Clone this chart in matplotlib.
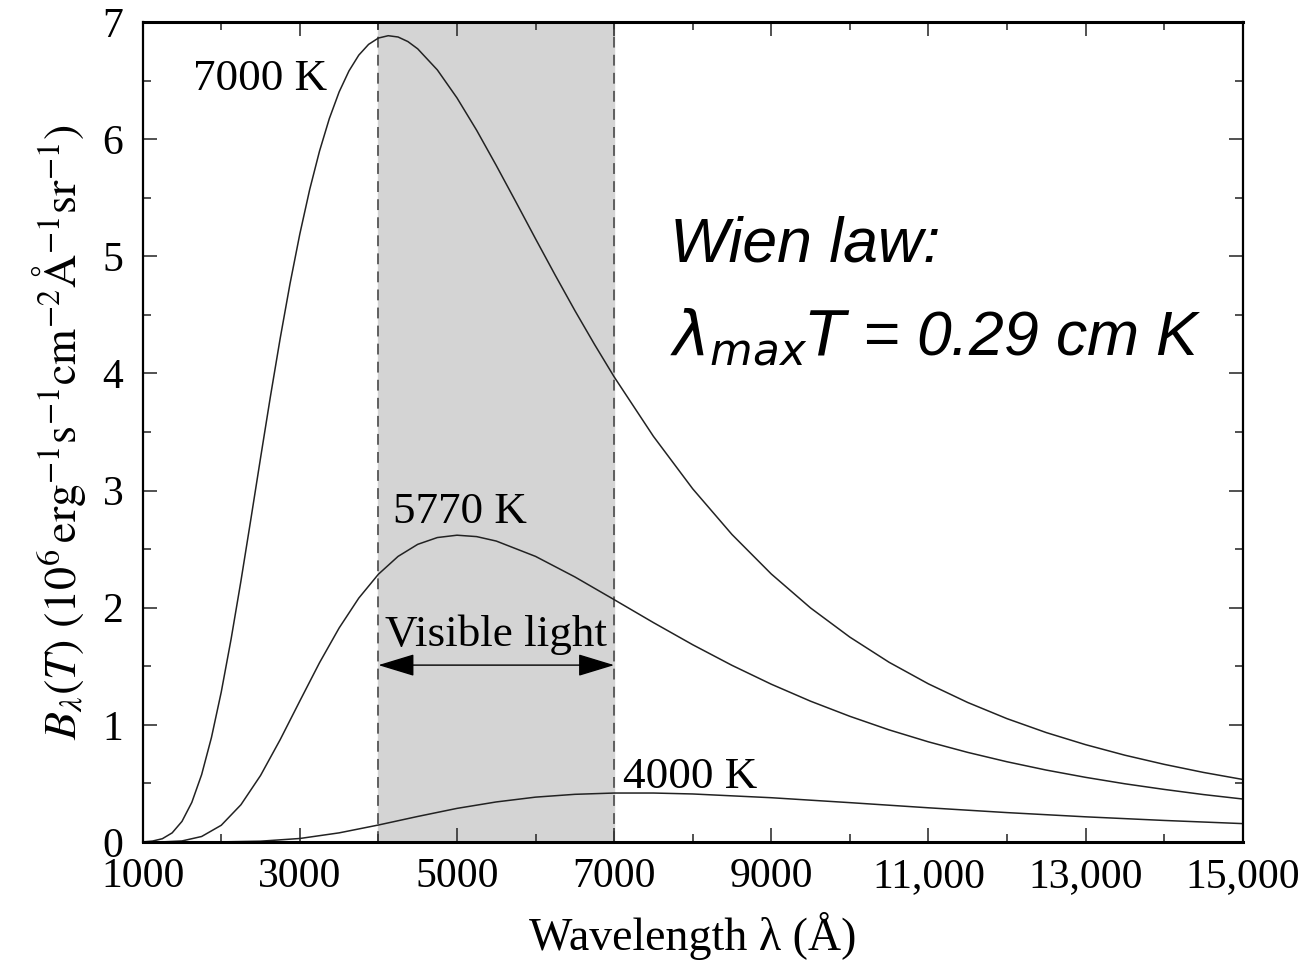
import numpy as np
import matplotlib
matplotlib.use("Agg")
from matplotlib import pyplot as plt
from matplotlib.ticker import FixedLocator, MultipleLocator

# values (10^6 erg s^-1 cm^-2 A^-1 sr^-1)
wl_7000 = [1000, 1125, 1250, 1375, 1500, 1625, 1750, 1875, 2000, 2125, 2250, 2375, 2500, 2625, 2750,
           2875, 3000, 3125, 3250, 3375, 3500, 3625, 3750, 3875, 4000, 4125, 4250, 4375, 4500, 4750,
           5000, 5250, 5500, 5750, 6000, 6250, 6500, 6750, 7000, 7500, 8000, 8500, 9000, 9500,
           10000, 10500, 11000, 11500, 12000, 12500, 13000, 13500, 14000, 14500, 15000]
b_7000 = [0.001, 0.008, 0.028, 0.078, 0.176, 0.338, 0.575, 0.892, 1.281, 1.732, 2.227, 2.749, 3.279, 3.801, 4.300,
          4.766, 5.191, 5.569, 5.897, 6.175, 6.403, 6.582, 6.717, 6.809, 6.863, 6.883, 6.872, 6.833, 6.771, 6.591,
          6.352, 6.076, 5.775, 5.464, 5.149, 4.839, 4.537, 4.248, 3.971, 3.463, 3.015, 2.625, 2.288, 1.998,
          1.749, 1.534, 1.350, 1.191, 1.053, 0.934, 0.831, 0.741, 0.663, 0.594, 0.534]

wl_5770 = [1000, 1250, 1500, 1750, 2000, 2250, 2500, 2750, 3000, 3250, 3500, 3750, 4000, 4250, 4500,
           4750, 5000, 5250, 5500, 6000, 6500, 7000, 7500, 8000, 8500, 9000, 9500, 10000, 10500,
           11000, 11500, 12000, 12500, 13000, 13500, 14000, 14500, 15000]
b_5770 = [0.000, 0.001, 0.009, 0.047, 0.143, 0.318, 0.568, 0.874, 1.204, 1.530, 1.827, 2.082, 2.286, 2.438, 2.541,
          2.599, 2.619, 2.607, 2.569, 2.438, 2.263, 2.069, 1.873, 1.684, 1.508, 1.347, 1.202, 1.073, 0.957,
          0.855, 0.765, 0.685, 0.614, 0.552, 0.497, 0.449, 0.405, 0.367]

wl_4000 = [1000, 1500, 2000, 2500, 3000, 3500, 4000, 4500, 5000, 5500, 6000, 6500, 7000, 7500, 8000,
           9000, 10000, 11000, 12000, 13000, 14000, 15000]
b_4000 = [0.000, 0.000, 0.001, 0.007, 0.030, 0.078, 0.145, 0.218, 0.287, 0.342, 0.383, 0.407, 0.418, 0.418, 0.410,
          0.378, 0.336, 0.292, 0.251, 0.215, 0.184, 0.157]

visible = [4000, 7000]
xticks = [1000, 3000, 5000, 7000, 9000, 11000, 13000, 15000]
xticklabels = ["1000", "3000", "5000", "7000", "9000", "11,000", "13,000", "15,000"]

plt.rcParams["font.family"] = ["Liberation Serif", "DejaVu Serif"]
plt.rcParams["mathtext.fontset"] = "stix"

fig = plt.figure(figsize=(13.1, 9.64), dpi=100)
ax = fig.add_axes([142.7 / 1310, 1 - 842 / 964, 1100 / 1310, 820 / 964])

ax.axvspan(visible[0], visible[1], color="#d4d4d4", zorder=0)
for v in visible:
    ax.axvline(v, color="#555555", lw=1.3, ls=(0, (6, 4)), zorder=1)

for wl, b in [(wl_7000, b_7000), (wl_5770, b_5770), (wl_4000, b_4000)]:
    ax.plot(wl, b, color="#222222", lw=1.1, zorder=2)

ax.text(1640, 6.51, "7000 K", fontsize=32.5, ha="left", va="center")
ax.text(4180, 2.82, "5770 K", fontsize=32.5, ha="left", va="center")
ax.text(7110, 0.555, "4000 K", fontsize=32.5, ha="left", va="center")
ax.text(5500, 1.77, "Visible light", fontsize=32.5, ha="center", va="center")
ax.annotate("", xy=(visible[0], 1.51), xytext=(visible[1], 1.51),
            arrowprops=dict(arrowstyle="<|-|>,head_length=1.15,head_width=0.35",
                            color="black", lw=1.0, mutation_scale=20, shrinkA=0, shrinkB=0))

fig.text(670 / 1310, 1 - 262 / 964, "Wien law:", fontsize=45, style="italic",
         family="Liberation Sans", va="baseline")
fig.text(670 / 1310, 1 - 355 / 964, r"$\lambda_{max}$$T$ = 0.29 cm K", fontsize=45, style="italic",
         family="Liberation Sans", va="baseline", math_fontfamily="dejavusans")

ax.set_xlim(1000, 15000)
ax.set_ylim(0, 7)
ax.xaxis.set_major_locator(FixedLocator(xticks))
ax.set_xticklabels(xticklabels)
ax.xaxis.set_minor_locator(MultipleLocator(1000))
ax.yaxis.set_major_locator(MultipleLocator(1))
ax.yaxis.set_minor_locator(MultipleLocator(0.5))
ax.tick_params(which="both", direction="in", top=True, right=True, labelsize=30, color="#333333", width=1.2)
ax.tick_params(which="major", length=10)
ax.tick_params(which="minor", length=6)
ax.tick_params(axis="x", pad=11)
ax.tick_params(axis="y", pad=14)
for s in ["top", "bottom"]:
    ax.spines[s].set_linewidth(2.2)
for s in ["left", "right"]:
    ax.spines[s].set_linewidth(1.6)

ax.set_xlabel("Wavelength λ (Å)", fontsize=33, labelpad=12)
ax.set_ylabel(r"$B_\lambda(T)\ (10^6\,\mathrm{erg}^{-1}\mathrm{s}^{-1}\mathrm{cm}^{-2}\mathrm{\AA}^{-1}\mathrm{sr}^{-1})$",
              fontsize=33, labelpad=10)

fig.savefig("out.png", dpi=100)
